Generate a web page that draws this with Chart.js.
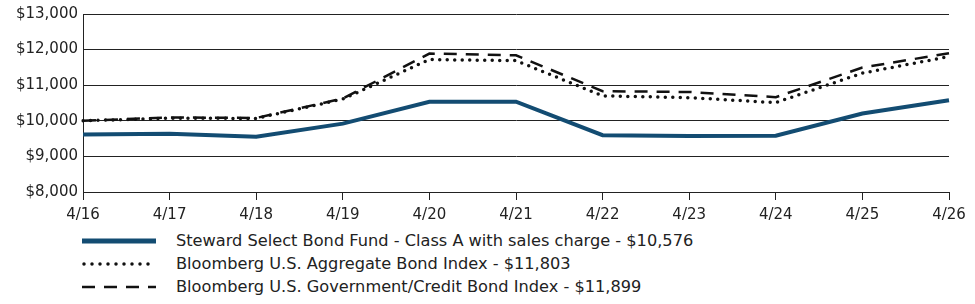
<!DOCTYPE html>
<html>
<head>
<meta charset="utf-8">
<script src="https://cdn.jsdelivr.net/npm/chart.js@4/dist/chart.umd.min.js"></script>
<style>
  body { margin: 0; background: #fff; font-family: "DejaVu Sans", sans-serif; }
  .wrap { position: relative; width: 975px; height: 304px; }
  .chart-box { position: absolute; left: 0; top: 0; width: 975px; height: 225px; }
  .legend { position: absolute; left: 82px; top: 229px; }
  .legend-row { display: flex; align-items: center; height: 23px; font-size: 16.2px; color: #222; white-space: nowrap; }
  .legend-row svg { width: 74px; height: 10px; margin-right: 20px; flex: none; }
</style>
</head>
<body>
<div class="wrap">
  <div class="chart-box"><canvas id="growthChart"></canvas></div>
  <div class="legend" id="legend"></div>
</div>
<script>
// Growth of $10,000
const labels = ['4/16', '4/17', '4/18', '4/19', '4/20', '4/21', '4/22', '4/23', '4/24', '4/25', '4/26'];
const fundValues = [9615, 9635, 9555, 9920, 10535, 10535, 9595, 9575, 9580, 10205, 10576];
const aggValues = [10000, 10075, 10065, 10610, 11720, 11690, 10700, 10650, 10510, 11340, 11803];
const govCreditValues = [10000, 10095, 10080, 10625, 11890, 11840, 10830, 10810, 10665, 11495, 11899];
const seriesNames = [
  'Steward Select Bond Fund - Class A with sales charge - $10,576',
  'Bloomberg U.S. Aggregate Bond Index - $11,803',
  'Bloomberg U.S. Government/Credit Bond Index - $11,899',
];

const FONT = '"DejaVu Sans", sans-serif';
const AXIS = '#222';
const FUND_BLUE = '#134c72';

const ctx = document.getElementById('growthChart').getContext('2d');
new Chart(ctx, {
  type: 'line',
  data: {
    labels: labels,
    datasets: [
      {
        label: seriesNames[2],
        data: govCreditValues,
        borderColor: '#111',
        borderWidth: 2.5,
        borderDash: [13, 9],
        pointRadius: 0,
        tension: 0,
        order: 3,
      },
      {
        label: seriesNames[1],
        data: aggValues,
        borderColor: '#111',
        borderWidth: 3.5,
        borderDash: [0, 7.5],
        borderCapStyle: 'round',
        pointRadius: 0,
        tension: 0,
        order: 2,
      },
      {
        label: seriesNames[0],
        data: fundValues,
        borderColor: FUND_BLUE,
        borderWidth: 4,
        pointRadius: 0,
        tension: 0,
        order: 1,
      },
    ],
  },
  options: {
    responsive: true,
    maintainAspectRatio: false,
    animation: false,
    layout: { padding: { left: 0, right: 26, top: 13, bottom: 0 } },
    plugins: {
      legend: { display: false },
      tooltip: { enabled: false },
    },
    scales: {
      x: {
        grid: { drawOnChartArea: false, drawTicks: true, tickLength: 8, color: AXIS },
        border: { display: true, color: AXIS },
        ticks: { color: '#222', font: { family: FONT, size: 15 }, padding: 6, maxRotation: 0 },
        afterFit(scale) { scale.height = 33; },
      },
      y: {
        min: 8000,
        max: 13000,
        grid: { color: AXIS, drawTicks: false },
        border: { display: true, color: AXIS },
        ticks: {
          stepSize: 1000,
          padding: 5,
          color: '#222',
          font: { family: FONT, size: 15 },
          callback: v => '$' + v.toLocaleString('en-US'),
        },
        afterFit(scale) { scale.width = 83; },
      },
    },
  },
});

// HTML legend
const legendStyles = [
  { stroke: FUND_BLUE, width: 5, dash: '', cap: 'butt' },
  { stroke: '#111', width: 3.5, dash: '0 8', cap: 'round' },
  { stroke: '#111', width: 2.5, dash: '13 9', cap: 'butt' },
];
document.getElementById('legend').innerHTML = seriesNames.map((name, i) => {
  const s = legendStyles[i];
  return `<div class="legend-row">
    <svg viewBox="0 0 74 10"><line x1="${s.cap === 'round' ? 2 : 0}" y1="5" x2="74" y2="5" stroke="${s.stroke}" stroke-width="${s.width}" stroke-dasharray="${s.dash}" stroke-linecap="${s.cap}"/></svg>
    <span>${name}</span>
  </div>`;
}).join('');
</script>
</body>
</html>
